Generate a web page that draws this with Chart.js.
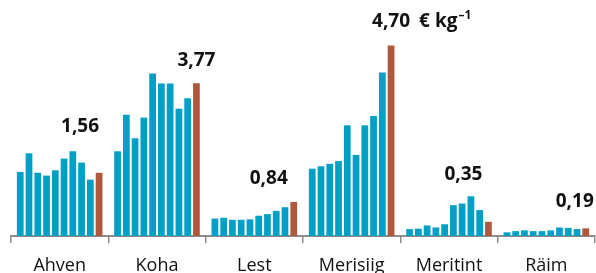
<!DOCTYPE html>
<html>
<head>
<meta charset="utf-8">
<script src="https://cdn.jsdelivr.net/npm/chart.js@4"></script>
<style>
  html, body { margin: 0; padding: 0; background: #fff; }
</style>
</head>
<body>
<canvas id="chart" width="596" height="273"></canvas>
<script>
const species = ['Ahven', 'Koha', 'Lest', 'Merisiig', 'Meritint', 'Räim'];

// ten bars per species, the last (brown) one is the latest price
const ahven    = [1.58, 2.04, 1.56, 1.49, 1.62, 1.91, 2.09, 1.81, 1.39, 1.56];
const koha     = [2.09, 2.99, 2.41, 2.92, 4.01, 3.76, 3.76, 3.14, 3.40, 3.77];
const lest     = [0.43, 0.45, 0.40, 0.40, 0.41, 0.50, 0.54, 0.62, 0.71, 0.84];
const merisiig = [1.66, 1.72, 1.78, 1.85, 2.73, 2.00, 2.73, 2.96, 4.03, 4.70];
const meritint = [0.17, 0.18, 0.26, 0.21, 0.29, 0.76, 0.80, 0.98, 0.64, 0.35];
const raim     = [0.09, 0.12, 0.14, 0.12, 0.12, 0.14, 0.21, 0.20, 0.17, 0.19];

const unitText = '€ kg';
const unitSup = '–1';

const rows = [ahven, koha, lest, merisiig, meritint, raim];
const nBars = ahven.length;
const teal = '#00a0c6';
const brown = '#b0583c';

const datasets = [];
for (let k = 0; k < nBars; k++) {
    datasets.push({
        data: rows.map(r => r[k]),
        backgroundColor: k === nBars - 1 ? brown : teal,
        borderWidth: 0,
        categoryPercentage: 0.9,
        barPercentage: 0.77
    });
}

// label offsets from the top of the brown bar (x, y)
const labelShift = [[-19, -41], [0, -17], [-25, -18], [0, -18], [-25, -42], [-11, -21]];
const unitIndex = 3;

const valueLabels = {
    id: 'valueLabels',
    afterDatasetsDraw(chart) {
        const ctx = chart.ctx;
        const meta = chart.getDatasetMeta(chart.data.datasets.length - 1);
        ctx.save();
        ctx.fillStyle = '#111';
        ctx.textBaseline = 'alphabetic';
        meta.data.forEach((bar, i) => {
            const txt = rows[i][nBars - 1].toFixed(2).replace('.', ',');
            const x = bar.x + labelShift[i][0];
            const y = bar.y + labelShift[i][1];
            ctx.font = 'bold 19px "Open Sans"';
            ctx.textAlign = 'center';
            ctx.fillText(txt, x, y);
            if (i === unitIndex) {
                ctx.textAlign = 'left';
                let ux = x + ctx.measureText(txt).width / 2 + 9;
                ctx.fillText(unitText, ux, y);
                ux += ctx.measureText(unitText).width + 1;
                ctx.font = 'bold 12px "Open Sans"';
                ctx.fillText(unitSup, ux, y - 8);
            }
        });
        ctx.restore();
    }
};

const config = {
    type: 'bar',
    data: { labels: species, datasets: datasets },
    options: {
        responsive: false,
        animation: false,
        layout: { padding: { top: 13, left: 11, right: 1, bottom: 0 } },
        plugins: { legend: { display: false }, tooltip: { enabled: false } },
        scales: {
            x: {
                grid: { display: true, drawOnChartArea: false, offset: true, tickLength: 7, color: '#8c8c8c', lineWidth: 1.5 },
                border: { display: true, color: '#8c8c8c', width: 2 },
                ticks: { color: '#111', font: { family: 'Open Sans', size: 18 }, padding: 12 },
                afterFit: s => { s.height = 37; }
            },
            y: { display: false, min: 0, max: 5.5 }
        }
    },
    plugins: [valueLabels]
};

new Chart(document.getElementById('chart'), config);
</script>
</body>
</html>
